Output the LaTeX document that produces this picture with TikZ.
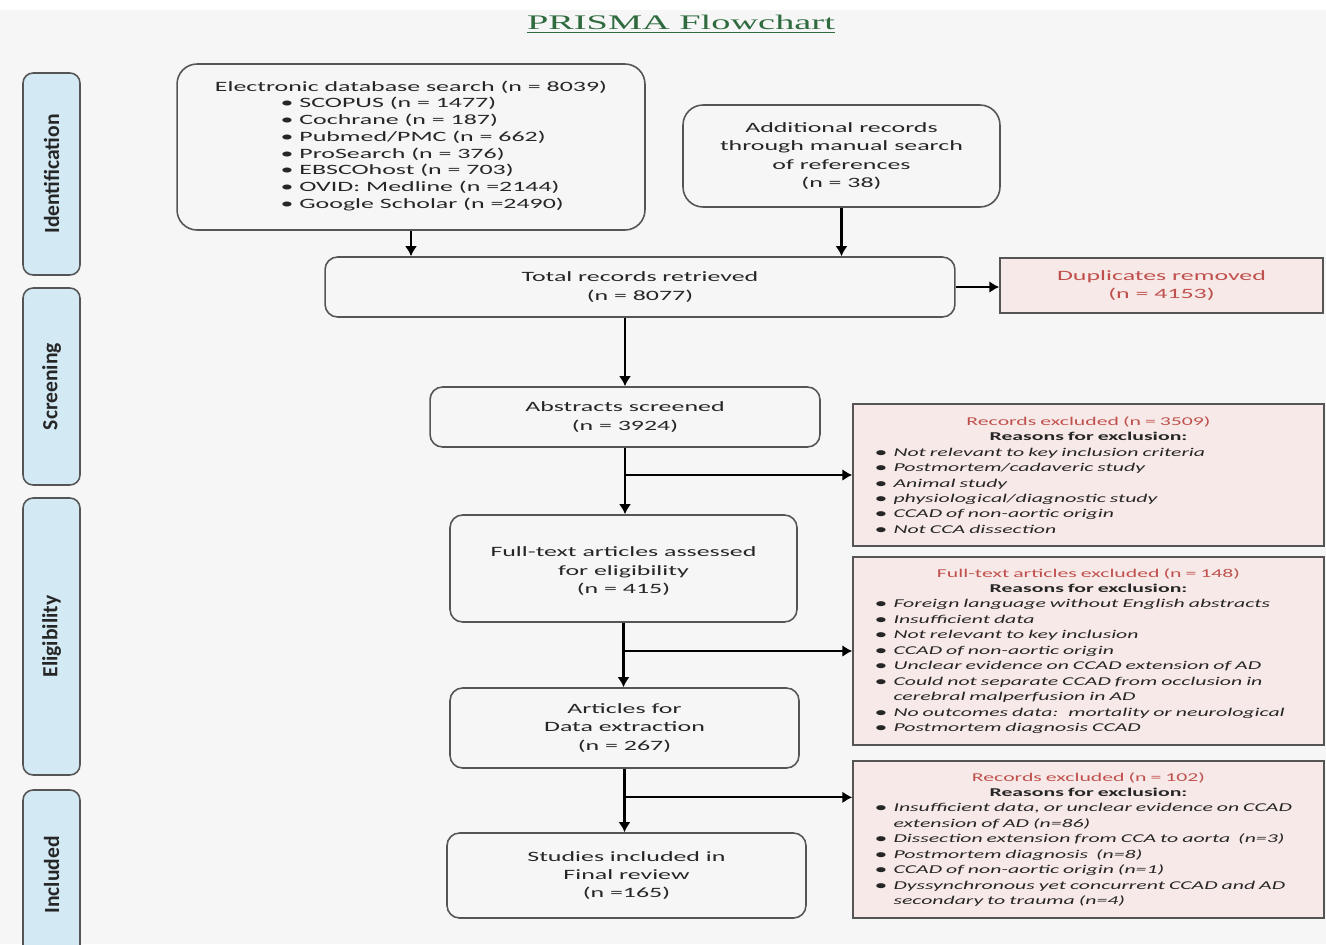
\documentclass[tikz,border=0pt]{standalone}
\usepackage{fontspec}
\usepackage{tikz}
\usetikzlibrary{positioning,calc,arrows.meta}
\newfontfamily\boxfont{Carlito}[FakeStretch=1.82]
\newfontfamily\phasefont{Carlito}
\newfontfamily\titlefont{Liberation Serif}[FakeStretch=1.85]
\definecolor{ink}       {HTML}{262626}
\definecolor{frame}     {HTML}{555555}
\definecolor{paper}     {HTML}{F6F6F6}
\definecolor{exfill}    {HTML}{F7E9E7}
\definecolor{exred}     {HTML}{C0504D}
\definecolor{phasefill} {HTML}{D3EAF5}
\definecolor{titlegreen}{HTML}{2F6B3F}
\tikzset{
  % --- nodes
  box/.style   = {rounded corners=0.25cm, draw=frame, fill=paper, line width=0.9pt,
                  align=center, inner sep=0pt, text=ink,
                  font=\boxfont\fontsize{8.1}{10.4}\selectfont},
  exbox/.style = {draw=frame, fill=exfill, line width=0.9pt, text width=8.52cm,
                  inner xsep=0.45cm, inner ysep=0pt, text=ink,
                  font=\boxfont\fontsize{6.8}{8.8}\selectfont},
  phase/.style = {rounded corners=0.2cm, draw=frame, fill=phasefill, line width=0.9pt,
                  rotate=90, minimum height=1.14cm, inner sep=0pt, text=black!85,
                  font=\phasefont\bfseries\fontsize{12.3}{14}\selectfont},
  % --- edges
  e/.style     = {-{Latex[length=0.2cm,width=0.24cm]}, line width=1.2pt, draw=black},
}
\newcommand{\exitem}[1]{\makebox[0.36cm][l]{\textbf{•}}\textit{#1}}
\newcommand{\excont}[1]{\hspace*{0.36cm}\textit{#1}}
\newcommand{\exhead}[1]{{\centering\textcolor{exred}{#1}\\\textbf{Reasons for exclusion:}\par}}

\begin{document}
\begin{tikzpicture}[x=0.02cm, y=-0.02cm]
  \useasboundingbox (0,0) rectangle (1326,944);
  \clip (0,0) rectangle (1326,944);
  \fill[white] (0,0) rectangle (1326,944);
  \fill[paper] (0,10) rectangle (1326,944);

  \node[font=\titlefont\fontsize{11.8}{13}\selectfont, text=titlegreen] (title) at (681,24)
    {\underline{PRISMA Flowchart}};

  % phases
  \node[phase, minimum width=4.04cm] (pid) at (51.5,174)   {Identification};
  \node[phase, minimum width=3.94cm] (psc) at (51.5,386.5) {Screening};
  \node[phase, minimum width=5.54cm] (pel) at (51.5,636.5) {Eligibility};
  \node[phase, minimum width=3.40cm] (pin) at (51.5,875)   {Included};

  % main column
  \node[box, rounded corners=0.4cm, minimum width=9.36cm, minimum height=3.32cm,
        font=\boxfont\fontsize{8.1}{9.5}\selectfont] (db) at (411,147)
    {Electronic database search (n = 8039)\\
     \hspace*{0.45cm}\begin{tabular}[t]{@{}l@{}}
       • SCOPUS (n = 1477)\\ • Cochrane (n = 187)\\ • Pubmed/PMC (n = 662)\\
       • ProSearch (n = 376)\\ • EBSCOhost (n = 703)\\ • OVID: Medline (n =2144)\\
       • Google Scholar (n =2490)
     \end{tabular}};
  \node[box, rounded corners=0.4cm, minimum width=6.34cm, minimum height=2.04cm] (add) at (841.5,156)
    {Additional records\\through manual search\\of references\\(n = 38)};
  \node[box, minimum width=12.6cm, minimum height=1.2cm] (tot) at (640,287)
    {Total records retrieved\\(n = 8077)};
  \node[box, rounded corners=0pt, fill=exfill, text=exred, minimum width=6.46cm,
        minimum height=1.1cm] (dup) at (1161.5,285.5)
    {Duplicates removed\\(n = 4153)};
  \node[box, minimum width=7.8cm, minimum height=1.2cm] (abs) at (625,417)
    {Abstracts screened\\(n = 3924)};
  \node[box, minimum width=6.94cm, minimum height=2.14cm] (ft) at (623.5,568.5)
    {\rule{0pt}{0.3cm}Full-text articles assessed\\for eligibility\\(n = 415)};
  \node[box, minimum width=6.98cm, minimum height=1.6cm] (art) at (624.5,728)
    {Articles for\\Data extraction\\(n = 267)};
  \node[box, minimum width=7.18cm, minimum height=1.7cm] (stu) at (626.5,875.5)
    {Studies included in\\Final review\\(n =165)};

  % exclusions
  \node[exbox, minimum height=2.84cm] (ex1) at (1088.5,475) {%
    \exhead{Records excluded (n = 3509)}
    \exitem{Not relevant to key inclusion criteria}\\
    \exitem{Postmortem/cadaveric study}\\
    \exitem{Animal study}\\
    \exitem{physiological/diagnostic study}\\
    \exitem{CCAD of non-aortic origin}\\
    \exitem{Not CCA dissection}};
  \node[exbox, minimum height=3.76cm] (ex2) at (1088.5,651) {%
    \exhead{Full-text articles excluded (n = 148)}
    \exitem{Foreign language without English abstracts}\\
    \exitem{Insufficient data}\\
    \exitem{Not relevant to key inclusion}\\
    \exitem{CCAD of non-aortic origin}\\
    \exitem{Unclear evidence on CCAD extension of AD}\\
    \exitem{Could not separate CCAD from occlusion in}\\
    \excont{cerebral malperfusion in AD}\\
    \exitem{No outcomes data:~ mortality or neurological}\\
    \exitem{Postmortem diagnosis CCAD}};
  \node[exbox, minimum height=3.14cm] (ex3) at (1088.5,839.5) {%
    \exhead{Records excluded (n = 102)}
    \exitem{Insufficient data, or unclear evidence on CCAD}\\
    \excont{extension of AD (n=86)}\\
    \exitem{Dissection extension from CCA to aorta~ (n=3)}\\
    \exitem{Postmortem diagnosis~ (n=8)}\\
    \exitem{CCAD of non-aortic origin (n=1)}\\
    \exitem{Dyssynchronous yet concurrent CCAD and AD}\\
    \excont{secondary to trauma (n=4)}};

  % connectors
  \draw[e] (db) -- (db |- tot.north);
  \draw[e] (add) -- (add |- tot.north);
  \draw[e] (tot.east) -- (dup.west |- tot.east);
  \draw[e] (abs.north |- tot.south) -- (abs.north);
  \draw[e] (abs.south) -- (abs.south |- ft.north);
  \draw[e] (abs.south |- ex1.west) -- (ex1.west);
  \draw[e] (ft.south) -- (ft.south |- art.north);
  \draw[e] (ft.south |- ex2.west) -- (ex2.west);
  \draw[e] (art.south) -- (art.south |- stu.north);
  \coordinate (b3) at ($(art.south)!0.45!(stu.north)$);
  \draw[e] (b3) -- (b3 -| ex3.west);
\end{tikzpicture}
\end{document}
